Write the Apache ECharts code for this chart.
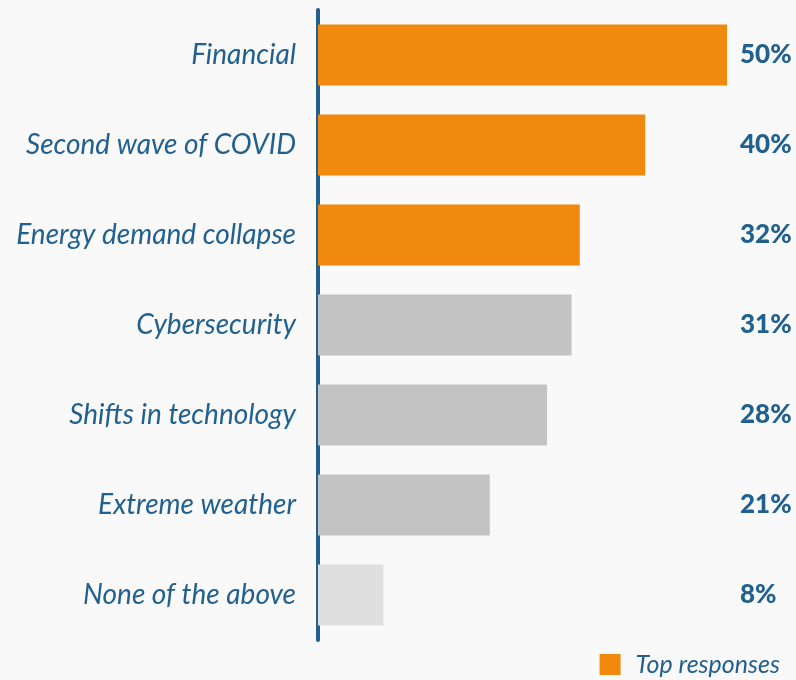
<!DOCTYPE html>
<html>
<head>
<meta charset="utf-8">
<script src="https://cdn.jsdelivr.net/npm/echarts@6/dist/echarts.min.js"></script>
<style>
  html, body { margin: 0; padding: 0; background: #f9f9f9; }
  #chart { width: 796px; height: 680px; }
</style>
</head>
<body>
<div id="chart"></div>
<script>
// risks named by respondents, top to bottom
const categories = ['Financial', 'Second wave of COVID', 'Energy demand collapse', 'Cybersecurity',
  'Shifts in technology', 'Extreme weather', 'None of the above'];
const values = [50, 40, 32, 31, 28, 21, 8];
// which group each bar belongs to: top / other / none
const groups = ['top', 'top', 'top', 'other', 'other', 'other', 'none'];

const blue = '#21608f';
const groupColors = { top: '#f0890e', other: '#c3c3c3', none: '#dfdfdf' };

const chart = echarts.init(document.getElementById('chart'));

chart.setOption({
  backgroundColor: '#f9f9f9',
  animation: false,
  grid: { left: 318, right: 69, top: 10, bottom: 40 },
  legend: {
    right: 16,
    top: 652,
    padding: 0,
    icon: 'rect',
    itemWidth: 21,
    itemHeight: 21,
    itemGap: 10,
    textStyle: {
      fontFamily: 'Lato',
      fontStyle: 'italic',
      fontSize: 25,
      color: blue,
      padding: [0, 0, 0, 10]
    },
    data: ['Top responses']
  },
  xAxis: {
    type: 'value',
    min: 0,
    max: 50,
    show: false
  },
  yAxis: [
    {
      type: 'category',
      inverse: true,
      data: categories,
      axisLine: { show: true, lineStyle: { color: blue, width: 4 } },
      axisTick: { show: false },
      axisLabel: {
        margin: 22,
        fontFamily: 'Lato',
        fontStyle: 'italic',
        fontSize: 28,
        color: blue
      }
    },
    {
      type: 'category',
      inverse: true,
      position: 'right',
      data: categories,
      axisLine: { show: false },
      axisTick: { show: false },
      axisLabel: {
        margin: 13,
        align: 'left',
        fontFamily: 'Lato',
        fontWeight: 900,
        fontSize: 26,
        color: blue,
        formatter: (v, i) => values[i] + '%'
      }
    }
  ],
  series: [
    {
      name: 'Top responses',
      type: 'bar',
      color: groupColors.top,
      barWidth: 61,
      data: values.map((v, i) => ({
        value: v,
        itemStyle: { color: groupColors[groups[i]] }
      }))
    }
  ]
});
</script>
</body>
</html>
